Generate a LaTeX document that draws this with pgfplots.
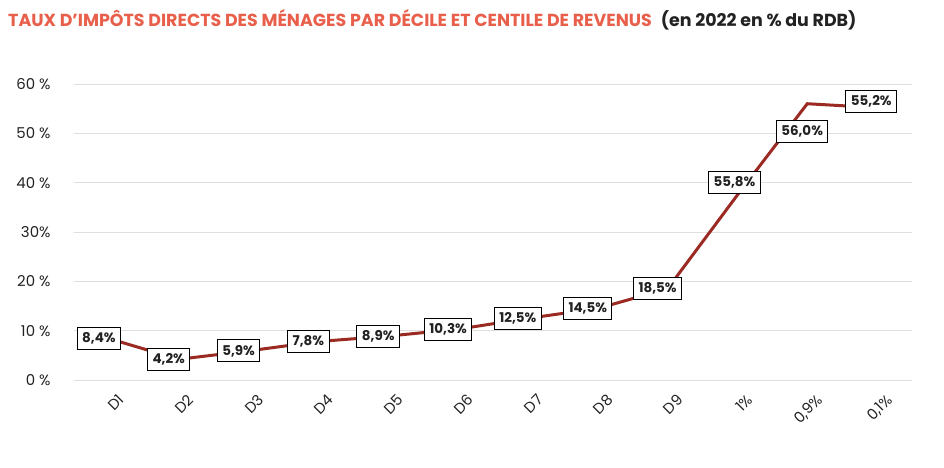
\documentclass[border=0pt]{standalone}
\usepackage{fontspec}
\setmainfont{Poppins}
\usepackage{pgfplots}
\pgfplotsset{compat=1.18}
\definecolor{titlered}{HTML}{E8604C}
\definecolor{linered}{HTML}{9B2A22}
\definecolor{gridgray}{HTML}{E2DEDA}
\definecolor{ink}{HTML}{222222}

\begin{document}
\begin{tikzpicture}
\begin{axis}[
  name=ax,
  scale only axis,
  width=838bp, height=296bp,
  xmin=-0.5, xmax=11.5, ymin=0, ymax=60,
  xtick={0,...,11},
  xticklabels={D1,D2,D3,D4,D5,D6,D7,D8,D9,1\%,{0,9\%},{0,1\%}},
  ytick={0,10,...,60},
  yticklabels={0 \%,10 \%,20 \%,30\%,40 \%,50 \%,60 \%},
  ymajorgrids,
  grid style={gridgray, line width=0.8bp},
  axis line style={draw=none},
  major tick length=0pt,
  tick label style={font=\fontsize{15}{15}\selectfont, text=ink},
  yticklabel style={anchor=east, xshift=-20bp},
  xticklabel style={rotate=45, anchor=north east, yshift=-12bp},
  clip=false,
]
% the line
\addplot[linered, line width=3bp, mark=none] coordinates {
  (0,8.4) (1,4.2) (2,5.9) (3,7.8) (4,8.9) (5,10.3)
  (6,12.5) (7,14.5) (8,18.5) (9,37.5) (10,56.0) (11,55.2)
};
% value labels (boxes), as placed in the source chart
\addplot[draw=none, mark=none,
  nodes near coords, point meta=explicit symbolic,
  nodes near coords style={anchor=center, xshift=-10bp,
    draw=black, fill=white, line width=1bp, text=ink,
    inner xsep=5bp, inner ysep=0pt, minimum height=22bp,
    font=\bfseries\fontsize{13.5}{13.5}\selectfont},
] coordinates {
  (0,8.4) [8,4\%]
  (1,4.2) [4,2\%]
  (2,5.9) [5,9\%]
  (3,7.8) [7,8\%]
  (4,8.9) [8,9\%]
  (5,10.3) [10,3\%]
  (6,12.5) [12,5\%]
  (7,14.5) [14,5\%]
  (8,18.5) [18,5\%]
  (9.1,40.0) [55,8\%]
  (10.07,50.3) [56,0\%]
  (11.06,56.4) [55,2\%]
};
\end{axis}
\node[anchor=west, inner sep=0pt] at ([shift={(-66bp,360bp)}]ax.south west)
  {\bfseries\fontsize{17.5}{18}\selectfont
   \textcolor{titlered}{TAUX D'IMPÔTS DIRECTS DES MÉNAGES PAR DÉCILE ET CENTILE DE REVENUS}\hspace{9bp}%
   \textcolor{ink}{(en 2022 en \% du RDB)}};
\pgfresetboundingbox
\path[use as bounding box] ([shift={(-74bp,-88bp)}]ax.south west) rectangle ++(944bp,468bp);
\end{tikzpicture}
\end{document}
